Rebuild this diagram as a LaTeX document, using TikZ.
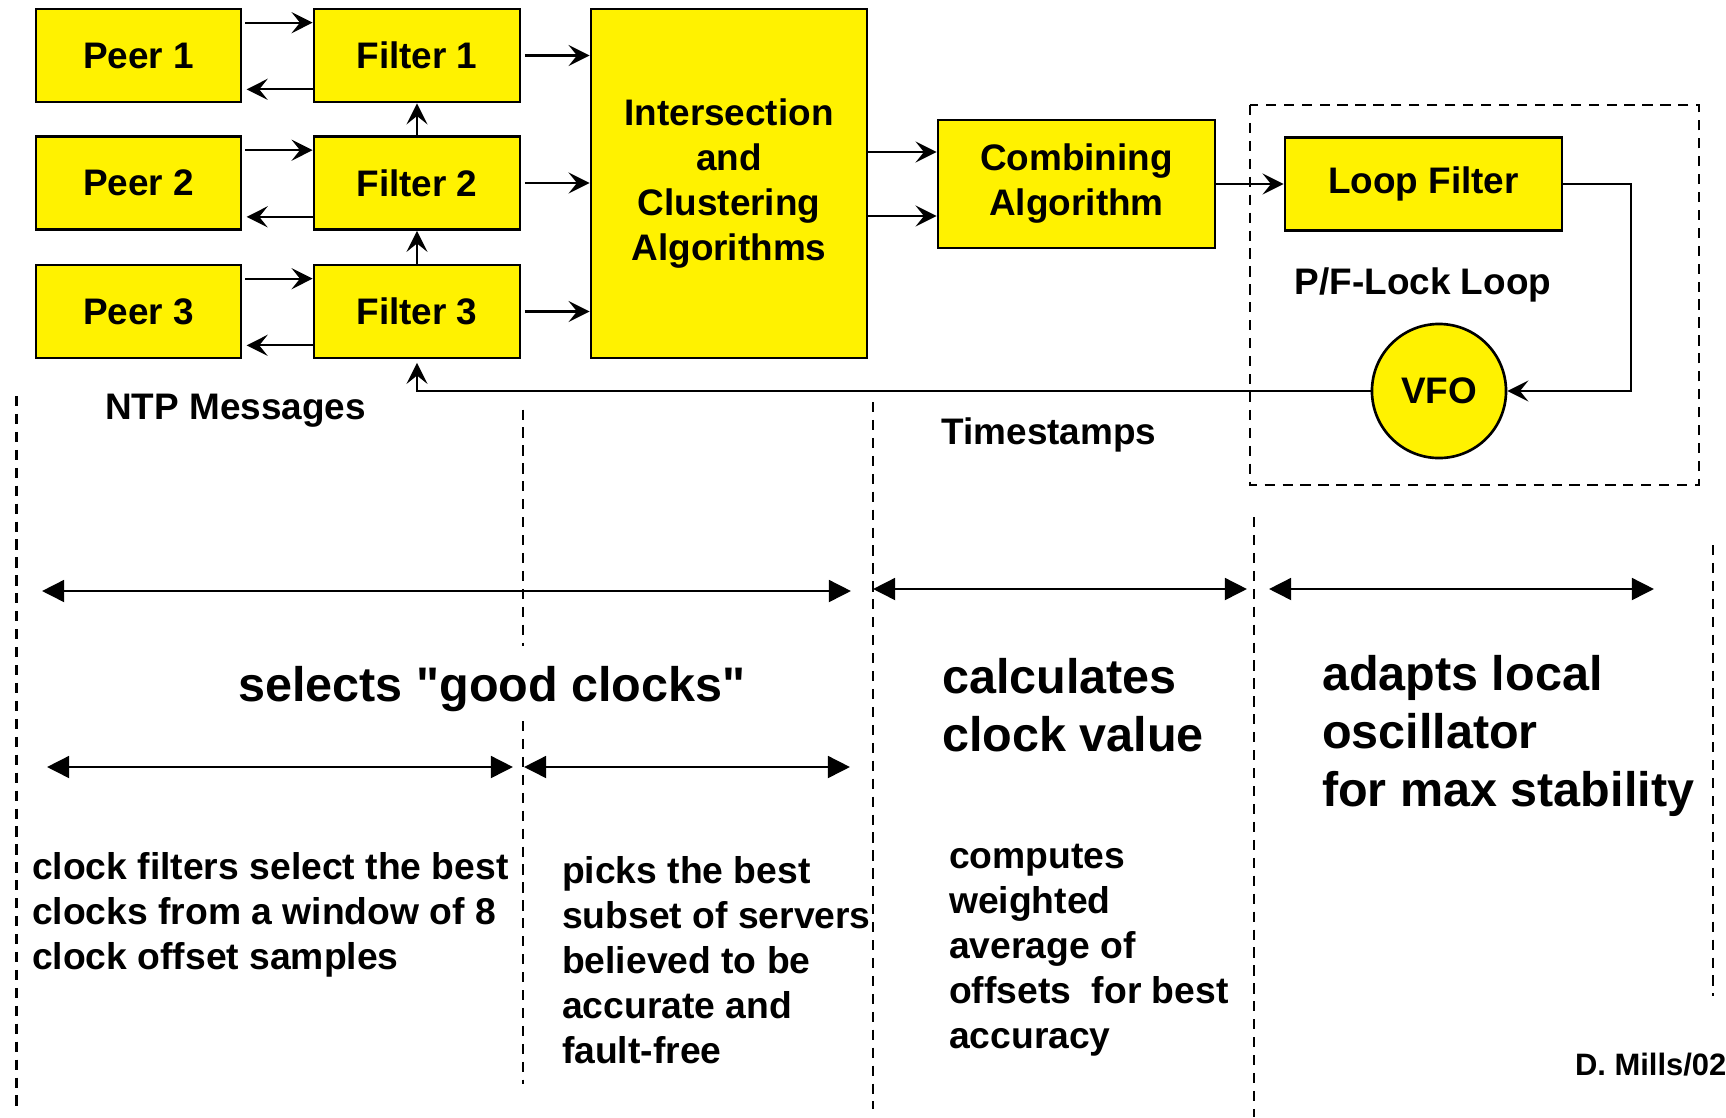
\documentclass[tikz,border=0pt]{standalone}
\usepackage{fontspec}
\setmainfont{Liberation Sans}[Ligatures=TeXOff]
\usetikzlibrary{arrows.meta}

\begin{document}
\begin{tikzpicture}[x=0.01cm,y=-0.01cm,line width=0.6pt,
  >={Stealth[length=6pt,width=6pt,inset=2.4pt]},
  block/.style={draw,fill=yellow,line width=0.75pt,minimum height=0.93cm,inner sep=0pt,
    align=center,font=\fontsize{10.5}{12.8}\selectfont\bfseries},
  peer/.style={block,minimum width=2.05cm},
  caption/.style={inner sep=0pt,font=\fontsize{10.5}{12.8}\selectfont\bfseries},
  big/.style={inner sep=0pt,align=left,font=\fontsize{13.8}{16.4}\selectfont\bfseries},
  note/.style={inner sep=0pt,align=left,anchor=west,font=\fontsize{10.6}{12.8}\selectfont\bfseries},
  dashline/.style={dash pattern=on 2.9pt off 2.2pt,line width=0.7pt},
  span/.style={{Triangle[length=6.3pt,width=6.2pt]}-{Triangle[length=6.3pt,width=6.2pt]},line width=0.75pt}]

  \useasboundingbox (0,0) rectangle (1726,1117);

  % peers, clock filters, selection
  \node[peer] (p1) at (138.5,55.5) {Peer 1};
  \node[peer] (p2) at (138.5,183) {Peer 2};
  \node[peer] (p3) at (138.5,311.5) {Peer 3};
  \node[peer,minimum width=2.06cm] (f1) at (417,55.5) {Filter 1};
  \node[peer,minimum width=2.06cm] (f2) at (417,183) {Filter 2};
  \node[peer,minimum width=2.06cm] (f3) at (417,311.5) {Filter 3};
  \node[block,minimum width=2.76cm,minimum height=3.49cm] (isect) at (729,183.5)
    {Intersection\\and\\Clustering\\Algorithms};
  \node[block,minimum width=2.77cm,minimum height=1.28cm] (comb) at (1076.5,184)
    {Combining\\Algorithm};
  \node[block,minimum width=2.77cm] (loop) at (1423.5,184) {Loop Filter};
  \node[block,circle,minimum size=1.34cm] (vfo) at (1439,391) {VFO};

  \foreach \i in {1,2,3}{
    \draw[->,shorten <=0.8pt] ([yshift=-0.15cm]p\i.north east) -- ([yshift=-0.15cm]f\i.north west);
    \draw[->,shorten >=1.2pt] ([yshift=0.14cm]f\i.south west) -- ([yshift=0.14cm]p\i.south east);
    \draw[->,shorten <=1pt] (f\i.east) -- (f\i.east -| isect.west);
  }
  \draw[->] (f2.north) -- (f1.south);
  \draw[->] (f3.north) -- (f2.south);

  \coordinate (ca) at ([yshift=0.32cm]comb.west);
  \coordinate (cb) at ([yshift=-0.32cm]comb.west);
  \draw[->] (isect.east |- ca) -- (ca);
  \draw[->] (isect.east |- cb) -- (cb);
  \draw[->] (comb.east) -- (loop.west);

  % phase/frequency lock loop
  \coordinate (turn) at (1631,391);
  \draw[->] (loop.east) -| (turn) -- (vfo.east);
  \draw[->,shorten >=1pt] (vfo.west) -| (f3.south);
  \draw[dashline] (1250,105) rectangle (1699,485);

  \node[caption] (ntp) at (235.6,411) {NTP Messages};
  \node[caption] (ts) at (1049,435) {Timestamps};
  \node[caption] (pfl) at (1423,285) {P/F-Lock Loop};

  % column separators
  \draw[dashline] (16.5,396) -- (16.5,1106);
  \draw[dashline] (523,409.5) -- (523,646);
  \draw[dashline] (523,721) -- (523,1084);
  \draw[dashline] (873,402) -- (873,1108.5);
  \draw[dashline] (1254,517) -- (1254,1117);
  \draw[dashline] (1713,545) -- (1713,996);

  % spans
  \coordinate (s1a) at (42,591);   \coordinate (s1b) at (851,591);
  \coordinate (s2a) at (873,589);  \coordinate (s2b) at (1247,589);
  \coordinate (s3a) at (1269,589); \coordinate (s3b) at (1654,589);
  \coordinate (s4a) at (47,767);   \coordinate (s4b) at (513,767);
  \coordinate (s5a) at (524,767);  \coordinate (s5b) at (850,767);
  \draw[span] (s1a) -- (s1b);
  \draw[span] (s2a) -- (s2b);
  \draw[span] (s3a) -- (s3b);
  \draw[span] (s4a) -- (s4b);
  \draw[span] (s5a) -- (s5b);

  \node[big] (sel) at (492,689) {selects "good clocks"};
  \node[big,anchor=west] (calc) at (941,705) {calculates\\clock value};
  \node[big,anchor=west] (adapt) at (1321,736) {adapts local\\oscillator\\for max stability};

  \node[note] (cf) at (31,915) {clock filters select the best\\clocks from a window of 8\\clock offset samples};
  \node[note] (pk) at (561,960) {picks the best\\subset of servers\\believed to be\\accurate and\\fault-free};
  \node[note] (cp) at (948,950) {computes\\weighted\\average of\\offsets\ \ for best\\accuracy};
  \node[note,font=\fontsize{8.8}{10}\selectfont\bfseries] (dm) at (1574,1065) {D. Mills/02};
\end{tikzpicture}
\end{document}
